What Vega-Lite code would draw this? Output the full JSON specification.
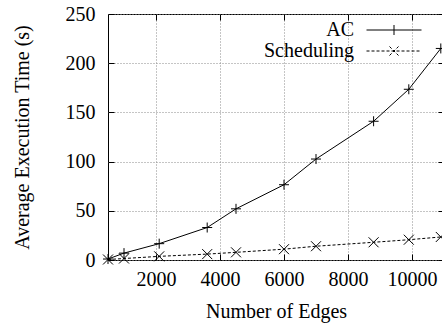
{
  "$schema": "https://vega.github.io/schema/vega-lite/v6.json",
  "autosize": {"type": "none"},
  "padding": {"left": 108, "top": 14, "right": 0, "bottom": 66},
  "width": 336,
  "height": 246,
  "background": "white",
  "config": {
    "font": "Liberation Serif",
    "view": {"stroke": "black", "strokeWidth": 1},
    "axis": {
      "labelFont": "Liberation Serif",
      "titleFont": "Liberation Serif",
      "labelFontSize": 20,
      "titleFontSize": 20,
      "titleFontWeight": "normal",
      "labelColor": "black",
      "titleColor": "black",
      "domain": false,
      "tickColor": "black",
      "gridColor": "#8a8a8a",
      "gridDash": [1, 2],
      "gridWidth": 1
    },
    "legend": {
      "labelFont": "Liberation Serif",
      "labelFontSize": 20,
      "labelColor": "black",
      "orient": "none",
      "padding": 0,
      "symbolSize": 100,
      "symbolStrokeColor": "black",
      "symbolStrokeWidth": 1,
      "symbolFillColor": "transparent",
      "labelAlign": "right",
      "labelOffset": -50,
      "title": null
    }
  },
  "data": {
    "values": [
      {"edges": 500, "time": 1, "series": "AC"},
      {"edges": 1000, "time": 7, "series": "AC"},
      {"edges": 2100, "time": 16.6, "series": "AC"},
      {"edges": 3600, "time": 33, "series": "AC"},
      {"edges": 4500, "time": 52, "series": "AC"},
      {"edges": 6000, "time": 76.5, "series": "AC"},
      {"edges": 7000, "time": 102.6, "series": "AC"},
      {"edges": 8800, "time": 141, "series": "AC"},
      {"edges": 9900, "time": 173.5, "series": "AC"},
      {"edges": 10900, "time": 215, "series": "AC"},
      {"edges": 500, "time": 0.5, "series": "Scheduling"},
      {"edges": 1000, "time": 1.5, "series": "Scheduling"},
      {"edges": 2100, "time": 3.7, "series": "Scheduling"},
      {"edges": 3600, "time": 6, "series": "Scheduling"},
      {"edges": 4500, "time": 7.8, "series": "Scheduling"},
      {"edges": 6000, "time": 11, "series": "Scheduling"},
      {"edges": 7000, "time": 14, "series": "Scheduling"},
      {"edges": 8800, "time": 18, "series": "Scheduling"},
      {"edges": 9900, "time": 20.6, "series": "Scheduling"},
      {"edges": 10900, "time": 23.4, "series": "Scheduling"}
    ]
  },
  "resolve": {"axis": {"x": "independent", "y": "independent"}, "scale": {"stroke": "independent", "strokeDash": "independent"}},
  "layer": [
    {
      "transform": [{"filter": "datum.series === 'AC'"}],
      "mark": {"type": "line", "strokeWidth": 1},
      "encoding": {
        "x": {
          "field": "edges", "type": "quantitative",
          "scale": {"domain": [500, 11000], "nice": false, "zero": false},
          "axis": {"title": "Number of Edges", "values": [2000, 4000, 6000, 8000, 10000], "format": "d", "grid": true, "tickSize": -6, "labelPadding": 15, "titlePadding": 12, "labelFlush": false}
        },
        "y": {
          "field": "time", "type": "quantitative",
          "scale": {"domain": [0, 250], "nice": false},
          "axis": {"title": "Average Execution Time (s)", "values": [0, 50, 100, 150, 200, 250], "format": "d", "grid": true, "tickSize": -6, "labelPadding": 19, "titlePadding": 33, "labelFlush": false}
        },
        "stroke": {
          "field": "series", "type": "nominal",
          "scale": {"domain": ["AC"], "range": ["black"]},
          "legend": {
            "legendX": 276,
            "legendY": 6,
            "symbolType": "M-5.5,0H5.5M0,-1V1"
          }
        }
      }
    },
    {
      "transform": [{"filter": "datum.series === 'Scheduling'"}],
      "mark": {"type": "line", "strokeWidth": 1, "color": "black"},
      "encoding": {
        "x": {"field": "edges", "type": "quantitative", "axis": null},
        "y": {"field": "time", "type": "quantitative", "axis": null},
        "strokeDash": {
          "field": "series", "type": "nominal",
          "scale": {"domain": ["Scheduling"], "range": [[3, 2]]},
          "legend": {
            "legendX": 276,
            "legendY": 27,
            "symbolType": "M-5.5,0H5.5M-0.9,-0.9L0.9,0.9M-0.9,0.9L0.9,-0.9"
          }
        }
      }
    },
    {
      "transform": [{"filter": "datum.series === 'AC'"}],
      "mark": {"type": "point", "shape": "M-1,0H1M0,-1V1", "filled": false, "stroke": "black", "strokeWidth": 1, "size": 100, "opacity": 1},
      "encoding": {
        "x": {
          "field": "edges", "type": "quantitative",
          "axis": {"orient": "top", "title": null, "labels": false, "grid": false, "values": [2000, 4000, 6000, 8000, 10000], "tickSize": -6}
        },
        "y": {
          "field": "time", "type": "quantitative",
          "axis": {"orient": "right", "title": null, "labels": false, "grid": false, "values": [0, 50, 100, 150, 200, 250], "tickSize": -6}
        }
      }
    },
    {
      "transform": [{"filter": "datum.series === 'Scheduling'"}],
      "mark": {"type": "point", "shape": "M-1,-1L1,1M-1,1L1,-1", "filled": false, "stroke": "black", "strokeWidth": 1, "size": 100, "opacity": 1},
      "encoding": {
        "x": {"field": "edges", "type": "quantitative", "axis": null},
        "y": {"field": "time", "type": "quantitative", "axis": null}
      }
    }
  ]
}
